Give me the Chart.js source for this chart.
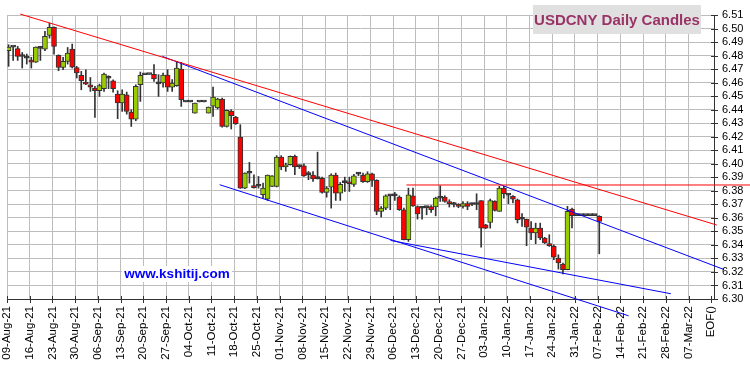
<!DOCTYPE html>
<html>
<head>
<meta charset="utf-8">
<title>USDCNY Daily Candles</title>
<script src="https://cdn.jsdelivr.net/npm/chart.js@4.4.1/dist/chart.umd.min.js"></script>
<style>
  html, body { margin: 0; padding: 0; background: #fff; }
  #chart { display: block; }
</style>
</head>
<body>
<canvas id="chart" width="750" height="366"></canvas>
<script>
// Weekly tick labels, one every 5 trading days from 09-Aug-21; last one is the end marker
const weekLabels = ['09-Aug-21', '16-Aug-21', '23-Aug-21', '30-Aug-21', '06-Sep-21', '13-Sep-21',
    '20-Sep-21', '27-Sep-21', '04-Oct-21', '11-Oct-21', '18-Oct-21', '25-Oct-21', '01-Nov-21',
    '08-Nov-21', '15-Nov-21', '22-Nov-21', '29-Nov-21', '06-Dec-21', '13-Dec-21', '20-Dec-21',
    '27-Dec-21', '03-Jan-22', '10-Jan-22', '17-Jan-22', '24-Jan-22', '31-Jan-22', '07-Feb-22',
    '14-Feb-22', '21-Feb-22', '28-Feb-22', '07-Mar-22', 'EOF()'];
const weekTickPos = weekLabels.map((l, i) => (i === weekLabels.length - 1 ? 154.9 : i * 5));

// Price ticks on the right axis
const priceTicks = [6.30, 6.31, 6.32, 6.33, 6.34, 6.35, 6.36, 6.37, 6.38, 6.39, 6.40,
    6.41, 6.42, 6.43, 6.44, 6.45, 6.46, 6.47, 6.48, 6.49, 6.50, 6.51];

// Daily candles (one per weekday, starting 09-Aug-21)
const opens = [6.4836, 6.4862, 6.4851, 6.4795, 6.4782, 6.4767, 6.4752, 6.4854, 6.4848, 6.4949,
    6.5008, 6.4801, 6.4712, 6.4757, 6.4848, 6.4712, 6.4653, 6.4604, 6.4584, 6.4560,
    6.4540, 6.4555, 6.4632, 6.4614, 6.4515, 6.4449, 6.4510, 6.4382, 6.4330, 6.4584,
    6.4659, 6.4661, 6.4661, 6.4593, 6.4597, 6.4656, 6.4567, 6.4578, 6.4701, 6.4458,
    6.4458, 6.4375, 6.4458, 6.4458, 6.4375, 6.4425, 6.4412, 6.4479, 6.4276, 6.4390,
    6.4346, 6.4198, 6.3820, 6.3932, 6.3835, 6.3836, 6.3771, 6.3739, 6.3832, 6.3832,
    6.4050, 6.3976, 6.3993, 6.4055, 6.3981, 6.3985, 6.3922, 6.3916, 6.3892, 6.3892,
    6.3788, 6.3827, 6.3916, 6.3783, 6.3862, 6.3867, 6.3847, 6.3925, 6.3916, 6.3867,
    6.3926, 6.3877, 6.3647, 6.3672, 6.3764, 6.3764, 6.3753, 6.3660, 6.3438, 6.3763,
    6.3684, 6.3673, 6.3678, 6.3684, 6.3680, 6.3747, 6.3753, 6.3719, 6.3701, 6.3700,
    6.3685, 6.3705, 6.3701, 6.3701, 6.3727, 6.3549, 6.3566, 6.3722, 6.3648, 6.3820,
    6.3770, 6.3759, 6.3734, 6.3592, 6.3591, 6.3524, 6.3488, 6.3524, 6.3451, 6.3409,
    6.3389, 6.3302, 6.3258, 6.3216, 6.3665, 6.3617, 6.3617, 6.3617, 6.3617, 6.3617,
    6.3611];
const highs = [6.4880, 6.4866, 6.4868, 6.4823, 6.4811, 6.4787, 6.4865, 6.4863, 6.4979, 6.5040,
    6.5013, 6.4806, 6.4787, 6.4860, 6.4885, 6.4720, 6.4683, 6.4695, 6.4638, 6.4572,
    6.4589, 6.4671, 6.4651, 6.4621, 6.4540, 6.4547, 6.4530, 6.4399, 6.4584, 6.4678,
    6.4659, 6.4661, 6.4733, 6.4659, 6.4671, 6.4696, 6.4622, 6.4757, 6.4750, 6.4458,
    6.4458, 6.4449, 6.4458, 6.4458, 6.4420, 6.4567, 6.4485, 6.4485, 6.4398, 6.4400,
    6.4350, 6.4289, 6.3933, 6.4010, 6.3919, 6.3906, 6.3857, 6.3917, 6.3913, 6.4060,
    6.4060, 6.4005, 6.4058, 6.4064, 6.3990, 6.4000, 6.3943, 6.3943, 6.4086, 6.3901,
    6.3832, 6.3926, 6.3931, 6.3862, 6.3901, 6.3901, 6.3921, 6.3936, 6.3931, 6.3941,
    6.3931, 6.3882, 6.3684, 6.3771, 6.3771, 6.3788, 6.3763, 6.3672, 6.3820, 6.3820,
    6.3689, 6.3684, 6.3684, 6.3690, 6.3753, 6.3837, 6.3763, 6.3734, 6.3715, 6.3705,
    6.3720, 6.3720, 6.3710, 6.3778, 6.3727, 6.3552, 6.3739, 6.3727, 6.3833, 6.3833,
    6.3779, 6.3764, 6.3739, 6.3631, 6.3591, 6.3573, 6.3561, 6.3561, 6.3456, 6.3475,
    6.3401, 6.3327, 6.3266, 6.3685, 6.3672, 6.3617, 6.3617, 6.3617, 6.3617, 6.3617,
    6.3616];
const lows = [6.4720, 6.4764, 6.4764, 6.4708, 6.4737, 6.4708, 6.4750, 6.4764, 6.4836, 6.4929,
    6.4811, 6.4688, 6.4695, 6.4737, 6.4708, 6.4634, 6.4547, 6.4584, 6.4535, 6.4343,
    6.4498, 6.4535, 6.4555, 6.4530, 6.4333, 6.4387, 6.4367, 6.4276, 6.4318, 6.4461,
    6.4658, 6.4660, 6.4609, 6.4498, 6.4567, 6.4535, 6.4535, 6.4573, 6.4424, 6.4457,
    6.4457, 6.4375, 6.4457, 6.4457, 6.4375, 6.4350, 6.4405, 6.4271, 6.4271, 6.4257,
    6.4291, 6.3818, 6.3815, 6.3857, 6.3820, 6.3820, 6.3746, 6.3729, 6.3830, 6.3828,
    6.3956, 6.3944, 6.3990, 6.3919, 6.3965, 6.3906, 6.3882, 6.3869, 6.3887, 6.3783,
    6.3753, 6.3672, 6.3729, 6.3729, 6.3795, 6.3795, 6.3832, 6.3911, 6.3862, 6.3862,
    6.3832, 6.3623, 6.3606, 6.3660, 6.3660, 6.3729, 6.3655, 6.3436, 6.3426, 6.3684,
    6.3591, 6.3591, 6.3623, 6.3640, 6.3615, 6.3721, 6.3715, 6.3680, 6.3680, 6.3675,
    6.3672, 6.3660, 6.3690, 6.3660, 6.3384, 6.3520, 6.3524, 6.3650, 6.3648, 6.3746,
    6.3705, 6.3710, 6.3562, 6.3537, 6.3394, 6.3439, 6.3409, 6.3439, 6.3410, 6.3389,
    6.3290, 6.3221, 6.3186, 6.3216, 6.3525, 6.3616, 6.3616, 6.3616, 6.3616, 6.3616,
    6.3334];
const closes = [6.4863, 6.4864, 6.4794, 6.4793, 6.4781, 6.4752, 6.4863, 6.4853, 6.4942, 6.5008,
    6.4868, 6.4712, 6.4757, 6.4819, 6.4715, 6.4671, 6.4614, 6.4589, 6.4567, 6.4540,
    6.4579, 6.4663, 6.4634, 6.4555, 6.4449, 6.4515, 6.4387, 6.4330, 6.4572, 6.4653,
    6.4658, 6.4660, 6.4627, 6.4591, 6.4656, 6.4567, 6.4597, 6.4708, 6.4474, 6.4457,
    6.4457, 6.4449, 6.4457, 6.4457, 6.4420, 6.4493, 6.4479, 6.4276, 6.4395, 6.4355,
    6.4296, 6.3820, 6.3931, 6.3930, 6.3823, 6.3834, 6.3820, 6.3917, 6.3911, 6.4050,
    6.3976, 6.3993, 6.4055, 6.3976, 6.3979, 6.3911, 6.3920, 6.3887, 6.3890, 6.3788,
    6.3820, 6.3916, 6.3783, 6.3847, 6.3860, 6.3852, 6.3911, 6.3923, 6.3867, 6.3926,
    6.3877, 6.3647, 6.3672, 6.3763, 6.3762, 6.3762, 6.3660, 6.3438, 6.3771, 6.3689,
    6.3630, 6.3671, 6.3676, 6.3660, 6.3746, 6.3745, 6.3721, 6.3705, 6.3699, 6.3685,
    6.3705, 6.3685, 6.3699, 6.3699, 6.3524, 6.3524, 6.3727, 6.3655, 6.3820, 6.3779,
    6.3768, 6.3739, 6.3586, 6.3590, 6.3532, 6.3488, 6.3524, 6.3451, 6.3414, 6.3394,
    6.3310, 6.3266, 6.3216, 6.3648, 6.3616, 6.3616, 6.3616, 6.3616, 6.3616, 6.3616,
    6.3574];

// Trend lines drawn on the chart: start/end in (trading-day index, price)
const redTrendX = [2.9, 156.2];
const redTrendY = [6.5107, 6.3547];
const redLevelX = [87.9, 163.6];
const redLevelY = [6.3843, 6.3843];
const blueUpperX = [34.2, 157.8];
const blueUpperY = [6.4794, 6.3218];
const blueLowerX = [46.8, 136.8];
const blueLowerY = [6.3845, 6.2876];
const blueSupportX = [84.4, 146.1];
const blueSupportY = [6.3433, 6.3039];

const FONT = "Arial, 'Liberation Sans', sans-serif";
const candleOffset = 0.35; // candles sit slightly right of their date tick

const bodies = opens.map((o, i) => ({ x: i + candleOffset, y: [o, closes[i]] }));
const wicks = highs.map((h, i) => ({ x: i + candleOffset, y: [lows[i], h] }));
// flat days (doji / holidays) show as a plain dark dash
const bodyColors = opens.map((o, i) => {
    if (Math.abs(closes[i] - o) < 0.0003) return '#333333';
    return closes[i] >= o ? '#99cc00' : '#ff0000';
});

function linePoints(xs, ys) {
    return xs.map((x, i) => ({ x: x, y: ys[i] }));
}

function lineDataset(xs, ys, color) {
    return {
        type: 'line',
        data: linePoints(xs, ys),
        borderColor: color,
        borderWidth: 1,
        pointRadius: 0,
        fill: false,
        clip: false,
        order: 0
    };
}

// Axis tick marks crossing the axis lines, title box and site watermark
const decorations = {
    id: 'decorations',
    afterDraw(chart) {
        const { ctx, chartArea, scales } = chart;
        ctx.save();
        ctx.strokeStyle = '#333';
        ctx.lineWidth = 1;
        ctx.beginPath();
        scales.y.ticks.forEach(t => {
            const y = Math.round(scales.y.getPixelForValue(t.value)) + 0.5;
            ctx.moveTo(chartArea.right - 3, y);
            ctx.lineTo(chartArea.right + 4, y);
        });
        scales.x.ticks.forEach(t => {
            const x = Math.round(scales.x.getPixelForValue(t.value)) + 0.5;
            ctx.moveTo(x, chartArea.bottom - 3);
            ctx.lineTo(x, chartArea.bottom + 4);
        });
        ctx.stroke();

        // title
        ctx.fillStyle = '#e0e0e0';
        ctx.fillRect(533, 5, 168, 29);
        ctx.fillStyle = '#993366';
        ctx.font = 'bold 15px ' + FONT;
        ctx.textAlign = 'center';
        ctx.textBaseline = 'alphabetic';
        ctx.fillText('USDCNY Daily Candles', 617, 25);

        // watermark
        ctx.fillStyle = '#ffffff';
        ctx.fillRect(122, 266, 110, 16);
        ctx.fillStyle = '#0000ff';
        ctx.font = 'bold 13.5px ' + FONT;
        ctx.textBaseline = 'middle';
        ctx.fillText('www.kshitij.com', 177, 274);
        ctx.restore();
    }
};

new Chart(document.getElementById('chart'), {
    type: 'bar',
    data: {
        datasets: [
            {
                data: bodies,
                backgroundColor: bodyColors,
                borderColor: '#333333',
                borderWidth: 1,
                borderSkipped: false,
                barThickness: 5,
                minBarLength: 2,
                grouped: false,
                order: 1
            },
            {
                data: wicks,
                backgroundColor: '#333333',
                borderWidth: 0,
                barThickness: 1,
                grouped: false,
                order: 2
            },
            lineDataset(redTrendX, redTrendY, '#ff0000'),
            lineDataset(redLevelX, redLevelY, '#ff0000'),
            lineDataset(blueUpperX, blueUpperY, '#0000ff'),
            lineDataset(blueLowerX, blueLowerY, '#0000ff'),
            lineDataset(blueSupportX, blueSupportY, '#0000ff')
        ]
    },
    options: {
        responsive: false,
        animation: false,
        devicePixelRatio: 1,
        layout: { padding: { left: 6, top: 15, right: 0, bottom: 0 } },
        plugins: {
            legend: { display: false },
            tooltip: { enabled: false }
        },
        scales: {
            x: {
                type: 'linear',
                min: 0,
                max: 155.6,
                offset: false,
                afterFit(scale) { scale.height = 67; },
                afterBuildTicks(scale) {
                    scale.ticks = weekTickPos.map(v => ({ value: v }));
                },
                ticks: {
                    autoSkip: false,
                    minRotation: 90,
                    maxRotation: 90,
                    padding: 7,
                    color: '#000',
                    font: { family: FONT, size: 11.5 },
                    callback: (value, index) => weekLabels[index]
                },
                grid: {
                    offset: false,
                    drawTicks: false,
                    color: ctx => (ctx.index === weekLabels.length - 1 ? 'rgba(0,0,0,0)' : '#bdbdbd')
                },
                border: { display: true, color: '#333' }
            },
            y: {
                position: 'right',
                min: 6.30,
                max: 6.51,
                beginAtZero: false,
                afterFit(scale) { scale.width = 36; },
                afterBuildTicks(scale) {
                    scale.ticks = priceTicks.map(v => ({ value: v }));
                },
                ticks: {
                    autoSkip: false,
                    padding: 8,
                    color: '#000',
                    font: { family: FONT, size: 11 },
                    callback: (value, index) => priceTicks[index].toFixed(2)
                },
                grid: { drawTicks: false, color: '#bdbdbd' },
                border: { display: true, color: '#333' }
            }
        }
    },
    plugins: [decorations]
});
</script>
</body>
</html>
